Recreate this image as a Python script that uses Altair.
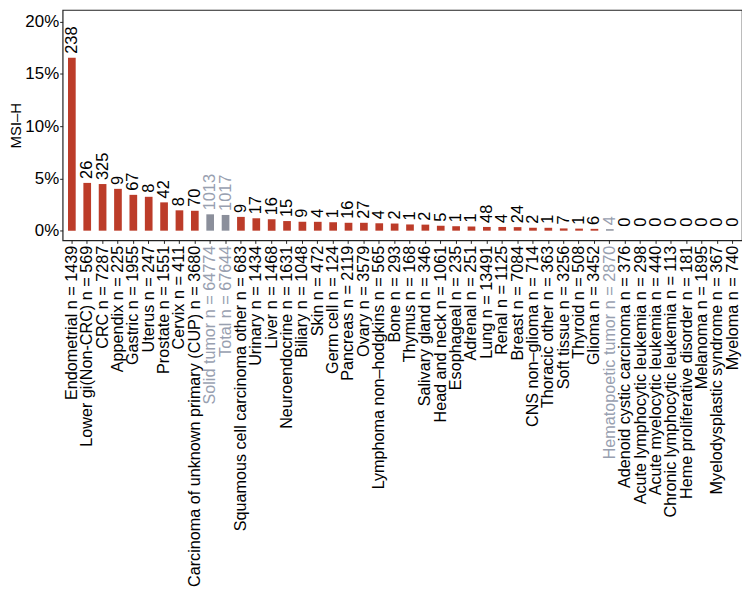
import altair as alt
import pandas as pd

categories = [
    "Endometrial", "Lower gi(Non-CRC)", "CRC", "Appendix", "Gastric", "Uterus",
    "Prostate", "Cervix", "Carcinoma of unknown primary (CUP)", "Solid tumor", "Total",
    "Squamous cell carcinoma other", "Urinary", "Liver", "Neuroendocrine", "Biliary",
    "Skin", "Germ cell", "Pancreas", "Ovary", "Lymphoma non\u2013hodgkins", "Bone",
    "Thymus", "Salivary gland", "Head and neck", "Esophageal", "Adrenal", "Lung",
    "Renal", "Breast", "CNS non\u2013glioma", "Thoracic other", "Soft tissue", "Thyroid",
    "Glioma", "Hematopoetic tumor", "Adenoid cystic carcinoma", "Acute lymphocytic leukemia",
    "Acute myelocytic leukemia", "Chronic lymphocytic leukemia", "Heme proliferative disorder",
    "Melanoma", "Myelodysplastic syndrome", "Myeloma",
]
n_values = [
    1439, 569, 7287, 225, 1955, 247, 1551, 411, 3680, 64774, 67644,
    683, 1434, 1468, 1631, 1048, 472, 124, 2119, 3579, 565, 293,
    168, 346, 1061, 235, 251, 13491, 1125, 7084, 714, 363, 3256, 508,
    3452, 2870, 376, 298, 440, 113, 181, 1895, 367, 740,
]
msi_counts = [
    238, 26, 325, 9, 67, 8, 42, 8, 70, 1013, 1017,
    9, 17, 16, 15, 9, 4, 1, 16, 27, 4, 2,
    1, 2, 5, 1, 1, 48, 4, 24, 2, 1, 7, 1,
    6, 4, 0, 0, 0, 0, 0, 0, 0, 0,
]
summary_groups = ["Solid tumor", "Total", "Hematopoetic tumor"]

labels = [f"{c} n = {n}" for c, n in zip(categories, n_values)]
kind = ["summary" if c in summary_groups else "tumor" for c in categories]
df = pd.DataFrame({"label": labels, "n": n_values, "count": msi_counts, "kind": kind})

FONT = "Liberation Sans"
RED = "#BC3C29"
GRAY_BAR = "#8B8F9B"
GRAY_TXT = "#98A0B0"

gray_labels = [l for l, k in zip(labels, kind) if k == "summary"]
gray_expr = "indexof(" + str(gray_labels).replace("'", '"') + ", datum.label) >= 0 ? '" + GRAY_TXT + "' : 'black'"

base = alt.Chart(df).transform_calculate(pct="datum.count / datum.n")

x_enc = alt.X(
    "label:N", sort=labels, title=None,
    scale=alt.Scale(paddingInner=0.5, paddingOuter=0.35),
    axis=alt.Axis(labelAngle=270, labelFontSize=16.3, labelFont=FONT, labelLimit=500,
                  labelOverlap=False, labelPadding=2, tickSize=3, tickColor="#222",
                  domain=False, labelColor=alt.ExprRef(expr=gray_expr)),
)
y_scale = alt.Scale(domain=[-0.0093, 0.2111], nice=False, zero=False)

bars = base.mark_bar().encode(
    x=x_enc,
    y=alt.Y("pct:Q", scale=y_scale, title="MSI\u2013H",
            axis=alt.Axis(values=[0, 0.05, 0.1, 0.15, 0.2], format=".0%", grid=False,
                          domain=False, tickSize=3, tickColor="#222", labelFontSize=17,
                          labelFont=FONT, labelColor="black", labelPadding=1,
                          titleFont=FONT, titleFontSize=15, titleFontWeight="normal",
                          titleColor="black", titlePadding=1)),
    y2=alt.datum(0),
    color=alt.Color("kind:N", scale=alt.Scale(domain=["tumor", "summary"], range=[RED, GRAY_BAR]), legend=None),
)

texts = base.mark_text(angle=270, align="left", baseline="middle", dx=4, fontSize=16.5, font=FONT).encode(
    x=alt.X("label:N", sort=labels),
    y=alt.Y("pct:Q", scale=y_scale),
    text=alt.Text("count:Q"),
    color=alt.Color("kind:N", scale=alt.Scale(domain=["tumor", "summary"], range=["black", GRAY_TXT]), legend=None),
)

chart = alt.layer(bars, texts).resolve_scale(color="independent").properties(
    width=684, height=232, background="white",
    padding={"left": 0, "top": 0, "right": 0, "bottom": 0}
).configure_view(stroke="#222", strokeWidth=1.2)

chart.save("out.html", embed_options={"renderer": "svg", "actions": False})
